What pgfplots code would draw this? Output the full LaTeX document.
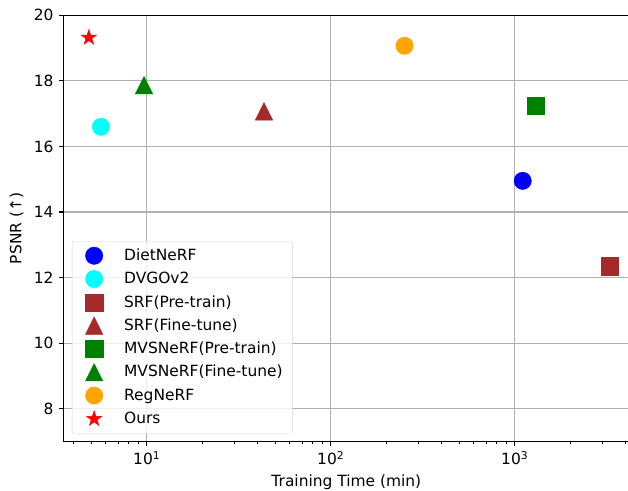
\documentclass[border=0pt]{standalone}
\usepackage{fontspec}
\setmainfont{DejaVu Sans}
\usepackage{pgfplots}
\pgfplotsset{compat=1.18}
\definecolor{mblue}{RGB}{0,0,255}
\definecolor{mcyan}{RGB}{0,255,255}
\definecolor{mred}{RGB}{255,0,0}
\definecolor{mbrown}{HTML}{A52A2A}
\definecolor{mgreen}{HTML}{008000}
\definecolor{morange}{HTML}{FFA500}
\definecolor{mgrid}{HTML}{B0B0B0}
\definecolor{mleg}{HTML}{D6D6D6}
\newcommand{\myfont}{\fontsize{15.5}{18}\selectfont}
\pgfdeclareplotmark{mtri}{%
  \pgfpathmoveto{\pgfqpoint{0pt}{\pgfplotmarksize}}%
  \pgfpathlineto{\pgfqpoint{-\pgfplotmarksize}{-\pgfplotmarksize}}%
  \pgfpathlineto{\pgfqpoint{\pgfplotmarksize}{-\pgfplotmarksize}}%
  \pgfpathclose\pgfusepathqfillstroke}
\pgfdeclareplotmark{fstar}{%
  \pgfpathmoveto{\pgfpointpolar{90}{\pgfplotmarksize}}%
  \pgfpathlineto{\pgfpointpolar{126}{0.382\pgfplotmarksize}}%
  \pgfpathlineto{\pgfpointpolar{162}{\pgfplotmarksize}}%
  \pgfpathlineto{\pgfpointpolar{198}{0.382\pgfplotmarksize}}%
  \pgfpathlineto{\pgfpointpolar{234}{\pgfplotmarksize}}%
  \pgfpathlineto{\pgfpointpolar{270}{0.382\pgfplotmarksize}}%
  \pgfpathlineto{\pgfpointpolar{306}{\pgfplotmarksize}}%
  \pgfpathlineto{\pgfpointpolar{342}{0.382\pgfplotmarksize}}%
  \pgfpathlineto{\pgfpointpolar{18}{\pgfplotmarksize}}%
  \pgfpathlineto{\pgfpointpolar{54}{0.382\pgfplotmarksize}}%
  \pgfpathclose\pgfusepathqfillstroke}
\begin{document}
\myfont
\begin{tikzpicture}[font=\myfont]
\begin{axis}[
  at={(0bp,0bp)}, anchor=south west,
  scale only axis, width=565.3bp, height=426.2bp,
  font=\myfont,
  tick label style={font=\myfont},
  label style={font=\myfont},
  xmode=log, xmin=3.54, xmax=4180, ymin=7, ymax=20,
  xtick={10,100,1000},
  xticklabels={{10\textsuperscript{1}},{10\textsuperscript{2}},{10\textsuperscript{3}}},
  minor xtick={4,5,6,7,8,9,20,30,40,50,60,70,80,90,200,300,400,500,600,700,800,900,2000,3000,4000},
  ytick={8,10,12,14,16,18,20},
  /pgf/number format/assume math mode=true,
  xtick pos=bottom, ytick pos=left,
  tick align=outside,
  major tick length=4.9bp, minor tick length=2.8bp,
  every tick/.style={black, line width=1.1bp},
  minor tick style={black, line width=0.83bp},
  axis line style={line width=1.1bp},
  grid=major,
  major grid style={mgrid, line width=1.1bp},
  minor grid style={draw=none},
  xlabel={Training Time (min)},
  ylabel={PSNR (↑)},
  xlabel style={yshift=1bp},
  legend cell align=left,
  legend style={at={(0.0146,0.0188)}, anchor=south west,
    draw=mleg, fill=white, fill opacity=0.8, text opacity=1,
    rounded corners=2bp, inner xsep=10bp, inner ysep=2.8bp,
    nodes={inner sep=0bp, draw=none, font=\myfont}, column sep=18bp},
  legend image code/.code={\path[draw=none,fill=none] (-12bp,-11.65bp) rectangle (12bp,11.65bp); \draw[#1,only marks,fill opacity=1,draw opacity=1] plot coordinates {(0bp,0bp)};},
]
\addplot[only marks, mark=*, mark size=8.7bp, mark options={draw=mblue, fill=mblue}] coordinates {(1105,14.95)};
\addlegendentry{DietNeRF}
\addplot[only marks, mark=*, mark size=8.7bp, mark options={draw=mcyan, fill=mcyan}] coordinates {(5.64,16.60)};
\addlegendentry{DVGOv2}
\addplot[only marks, mark=square*, mark size=8.6bp, mark options={draw=mbrown, fill=mbrown}] coordinates {(3268,12.35)};
\addlegendentry{SRF(Pre-train)}
\addplot[only marks, mark=mtri, mark size=8.7bp, mark options={draw=mbrown, fill=mbrown}] coordinates {(43.4,17.07)};
\addlegendentry{SRF(Fine-tune)}
\addplot[only marks, mark=square*, mark size=8.6bp, mark options={draw=mgreen, fill=mgreen}] coordinates {(1295,17.24)};
\addlegendentry{MVSNeRF(Pre-train)}
\addplot[only marks, mark=mtri, mark size=8.7bp, mark options={draw=mgreen, fill=mgreen}] coordinates {(9.67,17.87)};
\addlegendentry{MVSNeRF(Fine-tune)}
\addplot[only marks, mark=*, mark size=8.7bp, mark options={draw=morange, fill=morange}] coordinates {(252,19.07)};
\addlegendentry{RegNeRF}
\addplot[only marks, mark=fstar, mark size=8.2bp, mark options={draw=mred, fill=mred}] coordinates {(4.85,19.32)};
\addlegendentry{Ours}
\end{axis}
\pgfresetboundingbox
\useasboundingbox (-63.7bp,-49.5bp) rectangle (564.3bp,441.5bp);
\end{tikzpicture}
\end{document}
